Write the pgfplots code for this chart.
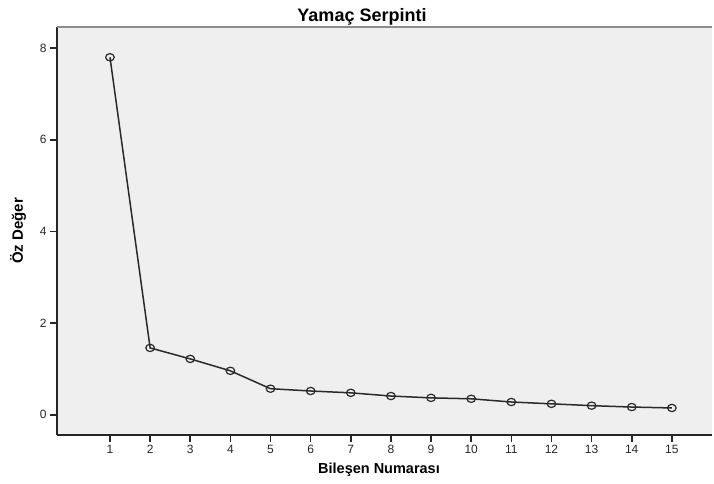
\documentclass[border=0pt]{standalone}
\usepackage{fontspec}
\setmainfont{Liberation Sans}
\usepackage{pgfplots}
\pgfplotsset{compat=1.18}
\definecolor{bgc}{HTML}{EFEFEF}
\definecolor{linec}{HTML}{2A2A2A}
\begin{document}
\begin{tikzpicture}[x=1pt,y=1pt]
\useasboundingbox (0,0) rectangle (714,483);
\begin{axis}[
  at={(57pt,48pt)}, anchor=south west,
  scale only axis, width=655pt, height=408pt,
  xmin=-0.32, xmax=16.0, ymin=-0.44, ymax=8.46,
  axis lines*=left,
  axis line style={draw=black!85, line width=1.6pt},
  axis background/.style={fill=bgc},
  xtick={1,...,15}, ytick={0,2,4,6,8},
  tick align=outside, major tick length=7pt,
  tick style={black!85, line width=1.6pt},
  /pgf/number format/assume math mode=true,
  xticklabel style={font=\fontsize{12}{14}\selectfont, text=black!85},
  yticklabel style={font=\fontsize{12}{14}\selectfont, text=black!85},
  clip=false,
]
\draw[gray!90, line width=1.8pt] (rel axis cs:0,1) -- (rel axis cs:1,1);
\addplot[linec, line width=1.5pt, mark=o, mark size=4.3pt, mark options={line width=1.2pt, fill=none, yscale=0.85}]
coordinates {
(1,7.80) (2,1.46) (3,1.22) (4,0.96) (5,0.57) (6,0.52) (7,0.48) (8,0.41)
(9,0.37) (10,0.35) (11,0.28) (12,0.24) (13,0.20) (14,0.17) (15,0.15)
};
\end{axis}
\node[font=\bfseries\fontsize{18}{20}\selectfont] at (362,466.5) {Yamaç Serpinti};
\node[font=\bfseries\fontsize{14.5}{17}\selectfont] at (379,13) {Bileşen Numarası};
\node[font=\bfseries\fontsize{15}{17}\selectfont, rotate=90] at (18,252) {Öz Değer};
\end{tikzpicture}
\end{document}
